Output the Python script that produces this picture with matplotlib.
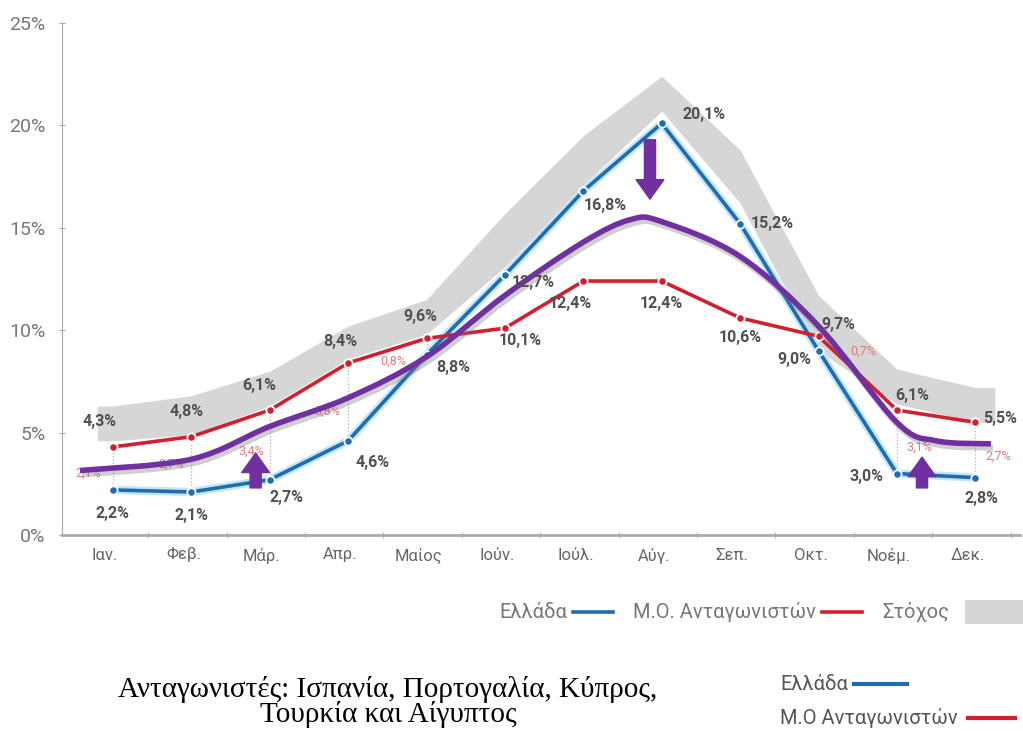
import matplotlib
matplotlib.use('Agg')
import matplotlib.pyplot as plt
import matplotlib.patheffects as pe
from matplotlib.path import Path
from matplotlib.patches import PathPatch, Rectangle
from matplotlib.lines import Line2D
import numpy as np

months = ['Ιαν.', 'Φεβ.', 'Μάρ.', 'Απρ.', 'Μαίος', 'Ιούν.', 'Ιούλ.', 'Αύγ.', 'Σεπ.', 'Οκτ.', 'Νοέμ.', 'Δεκ.']
greece = [2.2, 2.1, 2.7, 4.6, 8.8, 12.7, 16.8, 20.1, 15.2, 9.0, 3.0, 2.8]
rivals = [4.3, 4.8, 6.1, 8.4, 9.6, 10.1, 12.4, 12.4, 10.6, 9.7, 6.1, 5.5]
# grey "target" band, lower and upper edge
target_low = [4.6, 4.9, 6.3, 8.6, 9.8, 13.1, 17.1, 20.7, 16.2, 9.0, 6.4, 5.5]
target_high = [6.3, 6.8, 8.0, 10.2, 11.5, 15.7, 19.5, 22.4, 18.8, 11.7, 8.1, 7.2]
# months where the gap red-blue is written
gap_months = [0, 1, 2, 3, 4, 9, 10, 11]
# hand drawn purple trend curve
trend_x = [-0.42, 1, 2, 3, 4, 5, 6, 6.6, 7, 8, 9, 10, 10.5, 11.2]
trend_y = [3.15, 3.7, 5.3, 6.7, 8.7, 11.7, 14.3, 15.4, 15.3, 13.6, 10.2, 5.5, 4.6, 4.45]
# purple arrows: x, from, to
arrows = [(6.85, 19.3, 16.4), (1.82, 2.3, 4.0), (10.32, 2.3, 3.8)]

BLUE = '#1f6db0'
RED = '#d0202e'
PURPLE = '#7030a0'
GREY_TXT = '#505050'
SANS = ['Roboto', 'DejaVu Sans']

def fmt(v):
    return ('%.1f' % v).replace('.', ',') + '%'

fig = plt.figure(figsize=(10.23, 7.31), dpi=100)
ax = fig.add_axes([62 / 1023, 196 / 731, 958 / 1023, 512 / 731])
x = np.arange(len(months))

ax.set_xlim(-0.65, 11.57)
ax.set_ylim(0, 25)

# target band
bx = np.concatenate([[x[0] - 0.2], x, [x[-1] + 0.25]])
blo = np.concatenate([[target_low[0]], target_low, [target_low[-1]]])
bhi = np.concatenate([[target_high[0]], target_high, [target_high[-1]]])
ax.fill_between(bx, blo, bhi, color='#d6d6d6', lw=0, zorder=1)

# dotted connectors
for i in gap_months:
    ax.plot([x[i], x[i]], [greece[i], rivals[i]], ls=':', color='#b0b0b0', lw=0.9, zorder=2)

# lines
ax.plot(x, greece, color='#c4e6f7', lw=6, zorder=3, solid_capstyle='round')
ax.plot(x, greece, color=BLUE, lw=2.6, zorder=4, marker='o', ms=6, mec='white', mew=1.3)
ax.plot(x, rivals, color=RED, lw=2.6, zorder=4, marker='o', ms=6, mec='white', mew=1.3)

# smooth purple curve (catmull-rom -> bezier)
pts = np.column_stack([trend_x, trend_y])
verts = [pts[0]]
codes = [Path.MOVETO]
for k in range(len(pts) - 1):
    p0 = pts[k - 1] if k > 0 else pts[k]
    p1 = pts[k]
    p2 = pts[k + 1]
    p3 = pts[k + 2] if k + 2 < len(pts) else pts[k + 1]
    verts += [p1 + (p2 - p0) / 6, p2 - (p3 - p1) / 6, p2]
    codes += [Path.CURVE4] * 3
curve = PathPatch(Path(verts, codes), fill=False, edgecolor=PURPLE, lw=4, zorder=6,
                  capstyle='butt',
                  path_effects=[pe.SimpleLineShadow(offset=(1.5, -3), shadow_color='#777777', alpha=0.35),
                                pe.Normal()])
ax.add_patch(curve)

# arrows
for axx, y0, y1 in arrows:
    ax.annotate('', xy=(axx, y1), xytext=(axx, y0), zorder=7,
                arrowprops=dict(arrowstyle='simple,head_length=0.7,head_width=1.0,tail_width=0.4',
                                color=PURPLE, shrinkA=0, shrinkB=0, mutation_scale=20))

# value labels
lab_kw = dict(textcoords='offset pixels', ha='center', va='center', fontsize=11.5,
              fontweight='bold', color=GREY_TXT, family=SANS, zorder=8)
red_off = [(-13, 25), (-5, 25), (-10, 25), (-8, 21), (-6, 22), (15, -12), (-13, -22),
           (0, -22), (0, -20), (20, 12), (15, 15), (25, 4)]
blue_off = [(0, -24), (0, -24), (17, -18), (24, -22), (27, -13), (28, -8), (22, -15),
            (42, 9), (32, 0), (-24, -9), (-30, -3), (6, -21)]
for i in range(len(months)):
    ax.annotate(fmt(rivals[i]), (x[i], rivals[i]), xytext=red_off[i], **lab_kw)
    ax.annotate(fmt(greece[i]), (x[i], greece[i]), xytext=blue_off[i], **lab_kw)

gap_off = {0: (-25, -5), 1: (-20, 0), 2: (-18, -6), 3: (-21, -9), 4: (-33, -15),
           9: (45, -8), 10: (22, -5), 11: (23, -6)}
for i in gap_months:
    ax.annotate(fmt(rivals[i] - greece[i]), (x[i], (rivals[i] + greece[i]) / 2),
                xytext=gap_off[i], textcoords='offset pixels', ha='center', va='center',
                fontsize=9, color='#e07a80', family=SANS, zorder=5)

# axes styling
for s in ['top', 'right']:
    ax.spines[s].set_visible(False)
ax.spines['left'].set_color('#aaaaaa')
ax.spines['bottom'].set_color('#aaaaaa')
ax.spines['bottom'].set_linewidth(2)
ax.set_yticks([0, 5, 10, 15, 20, 25])
ax.set_yticklabels(['0%', '5%', '10%', '15%', '20%', '25%'])
ax.set_xticks(x - 0.1)
ax.set_xticklabels(months)
ax.set_xticks(x + 0.45, minor=True)
ax.tick_params(axis='x', which='major', length=0, pad=9, labelsize=12, labelcolor='#666666')
ax.tick_params(axis='x', which='minor', length=4, color='#aaaaaa', direction='inout')
ax.tick_params(axis='y', length=4, color='#aaaaaa', direction='inout', pad=10,
               labelsize=14, labelcolor='#777777')
for t in ax.get_xticklabels() + ax.get_yticklabels():
    t.set_family(SANS)

# legend row
leg_kw = dict(fontsize=14.5, color='#777777', va='center', ha='right', family=SANS)
ly = 1 - 612 / 731
fig.text(567 / 1023, ly, 'Ελλάδα', **leg_kw)
fig.add_artist(Line2D([573 / 1023, 613 / 1023], [ly] * 2, color=BLUE, lw=2.6))
fig.text(816 / 1023, ly, 'Μ.Ο. Ανταγωνιστών', **leg_kw)
fig.add_artist(Line2D([822 / 1023, 862 / 1023], [ly] * 2, color=RED, lw=2.6))
fig.text(949 / 1023, ly, 'Στόχος', **leg_kw)
fig.add_artist(Rectangle((965 / 1023, 1 - 624 / 731), 58 / 1023, 24 / 731,
                         transform=fig.transFigure, color='#d6d6d6', lw=0))

# second legend
leg2 = dict(fontsize=14.5, color='#555555', va='center', family=SANS)
fig.text(780 / 1023, 1 - 684 / 731, 'Ελλάδα', **leg2)
fig.add_artist(Line2D([854 / 1023, 907 / 1023], [1 - 684 / 731] * 2, color=BLUE, lw=3))
fig.text(780 / 1023, 1 - 718 / 731, 'Μ.Ο Ανταγωνιστών', **leg2)
fig.add_artist(Line2D([968 / 1023, 1015 / 1023], [1 - 718 / 731] * 2, color=RED, lw=3))

# note
fig.text(388 / 1023, 1 - 702 / 731, 'Ανταγωνιστές: Ισπανία, Πορτογαλία, Κύπρος,\nΤουρκία και Αίγυπτος',
         ha='center', va='center', fontsize=21, family='Liberation Serif', linespacing=0.88, color='black')

fig.savefig('out.png', dpi=100)
